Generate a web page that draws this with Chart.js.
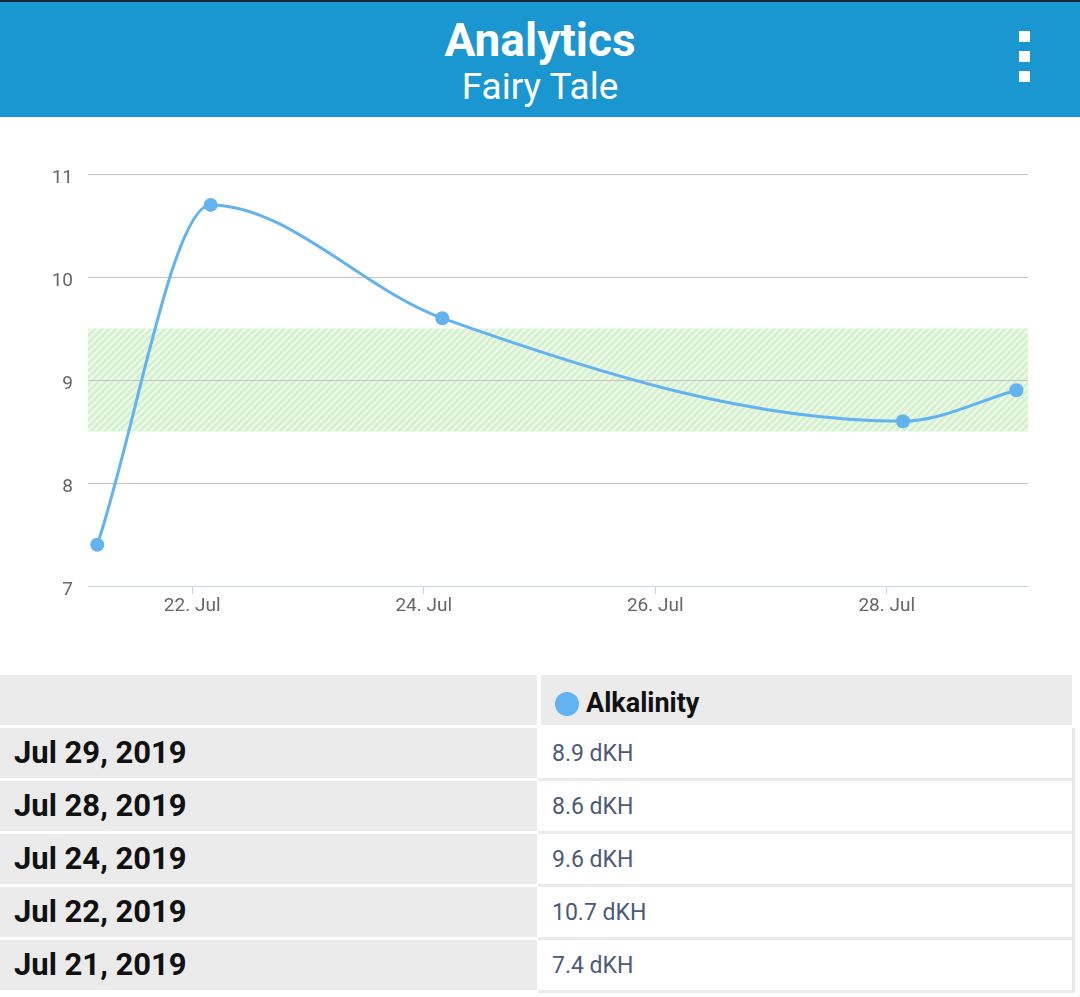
<!DOCTYPE html>
<html>
<head>
<meta charset="utf-8">
<script src="https://cdn.jsdelivr.net/npm/chart.js@4.4.1/dist/chart.umd.min.js"></script>
<style>
  html, body { margin: 0; padding: 0; background: #fff; }
  body { width: 1080px; height: 997px; position: relative; overflow: hidden; font-family: Roboto, "Noto Sans", sans-serif; }
  #topstrip { position: absolute; left: 0; top: 0; width: 1080px; height: 2px; background: #1b2733; }
  #header { position: absolute; left: 0; top: 2px; width: 1080px; height: 115px; background: #1a96d0; color: #fff; text-align: center; }
  #title { position: absolute; left: 0; width: 1080px; top: 11px; font-size: 46px; font-weight: bold; line-height: 54px; }
  #subtitle { position: absolute; left: 0; width: 1080px; top: 63px; font-size: 37px; line-height: 44px; }
  .dot { position: absolute; left: 1019px; width: 11px; height: 11px; background: #fff; }
  #chartBox { position: absolute; left: 0; top: 116px; width: 1080px; height: 540px; }
  .cell { position: absolute; box-sizing: border-box; }
  .lcell { left: 0; width: 537px; height: 50px; background: #ebebeb; font-weight: bold; font-size: 31px; color: #111; line-height: 50px; padding-left: 14px; }
  .rcell { left: 538px; width: 537px; height: 53px; background: #fff; border-right: 3px solid #ebebeb; border-bottom: 3px solid #ebebeb; font-size: 23px; color: #4b5a78; line-height: 52px; padding-left: 14px; }
  #hl { left: 0; top: 675px; width: 537px; height: 50px; background: #ebebeb; }
  #hr { left: 541px; top: 675px; width: 531px; height: 50px; background: #ebebeb; font-weight: bold; font-size: 27px; color: #111; line-height: 56px; padding-left: 45px; }
  #hdot { position: absolute; left: 14px; top: 17px; width: 24px; height: 24px; border-radius: 50%; background: #63b3f2; }
</style>
</head>
<body>
<div id="topstrip"></div>
<div id="header">
  <div id="title">Analytics</div>
  <div id="subtitle">Fairy Tale</div>
  <div class="dot" style="top:29px"></div>
  <div class="dot" style="top:49px"></div>
  <div class="dot" style="top:69px"></div>
</div>
<div id="chartBox"><canvas id="c" width="1080" height="540"></canvas></div>
<div id="table"></div>
<script>
// ---- data ----
const seriesName = 'Alkalinity';
const unit = 'dKH';
const dateLabels = ['Jul 21, 2019', 'Jul 22, 2019', 'Jul 24, 2019', 'Jul 28, 2019', 'Jul 29, 2019'];
const xDays = [21.18, 22.16, 24.16, 28.14, 29.12];   // day-of-July (with time of day)
const values = [7.4, 10.7, 9.6, 8.6, 8.9];
const xTickDays = [22, 24, 26, 28];
const xTickMonth = 'Jul';
const yTicks = [7, 8, 9, 10, 11];
const bandRange = [8.5, 9.5];

// ---- table ----
const table = document.getElementById('table');
const hl = document.createElement('div'); hl.className = 'cell'; hl.id = 'hl'; table.appendChild(hl);
const hr = document.createElement('div'); hr.className = 'cell'; hr.id = 'hr';
hr.innerHTML = '<span id="hdot"></span>' + seriesName; table.appendChild(hr);
const order = dateLabels.map((d, i) => i).reverse();
order.forEach((idx, r) => {
  const top = 728 + r * 53;
  const l = document.createElement('div'); l.className = 'cell lcell'; l.style.top = top + 'px';
  l.textContent = dateLabels[idx]; table.appendChild(l);
  const rc = document.createElement('div'); rc.className = 'cell rcell'; rc.style.top = top + 'px';
  rc.textContent = values[idx] + ' ' + unit; table.appendChild(rc);
});

// ---- hatch pattern ----
function makePattern(ctx) {
  const s = 7;
  const pc = document.createElement('canvas'); pc.width = s; pc.height = s;
  const p = pc.getContext('2d');
  p.fillStyle = '#eefaeb'; p.fillRect(0, 0, s, s);
  p.strokeStyle = '#d5f1ce'; p.lineWidth = 3;
  p.beginPath();
  p.moveTo(0, s); p.lineTo(s, 0);
  p.moveTo(-1, 1); p.lineTo(1, -1);
  p.moveTo(s - 1, s + 1); p.lineTo(s + 1, s - 1);
  p.stroke();
  return ctx.createPattern(pc, 'repeat');
}

const bandPlugin = {
  id: 'band',
  beforeDraw(chart) {
    const { ctx, chartArea, scales } = chart;
    const y1 = scales.y.getPixelForValue(bandRange[1]);
    const y0 = scales.y.getPixelForValue(bandRange[0]);
    ctx.save();
    ctx.fillStyle = makePattern(ctx);
    ctx.fillRect(chartArea.left, y1, chartArea.right - chartArea.left, y0 - y1);
    ctx.restore();
  }
};

const lineColor = '#63b3f0';
new Chart(document.getElementById('c'), {
  type: 'line',
  data: {
    datasets: [{
      label: seriesName,
      data: xDays.map((x, i) => ({ x, y: values[i] })),
      borderColor: lineColor,
      backgroundColor: lineColor,
      borderWidth: 3,
      pointRadius: 7,
      pointBorderWidth: 0,
      pointBackgroundColor: lineColor,
      cubicInterpolationMode: 'monotone',
      fill: false
    }]
  },
  options: {
    responsive: false,
    animation: false,
    layout: { padding: { top: 58, right: 52, left: 0, bottom: 20 } },
    plugins: { legend: { display: false }, tooltip: { enabled: false } },
    scales: {
      x: {
        type: 'linear',
        min: 21.10,
        max: 29.22,
        afterBuildTicks(scale) { scale.ticks = xTickDays.map(v => ({ value: v })); },
        afterFit(scale) { scale.height = 50; },
        grid: { display: true, drawOnChartArea: false, drawTicks: true, tickLength: 8, color: '#ccd6eb', lineWidth: 1 },
        border: { display: true, color: '#ccd6eb', width: 1 },
        ticks: {
          padding: 1,
          color: '#666666',
          font: { family: 'Roboto', size: 19 },
          maxRotation: 0,
          callback: v => v + '. ' + xTickMonth
        }
      },
      y: {
        min: 7,
        max: 11,
        afterBuildTicks(scale) { scale.ticks = yTicks.map(v => ({ value: v })); },
        afterFit(scale) { scale.width = 88; },
        grid: { color: '#c4c4c4', lineWidth: 1, drawTicks: false },
        border: { display: false },
        ticks: {
          padding: 15,
          labelOffset: 4,
          color: '#666666',
          font: { family: 'Roboto', size: 19 }
        }
      }
    }
  },
  plugins: [bandPlugin]
});
</script>
</body>
</html>
